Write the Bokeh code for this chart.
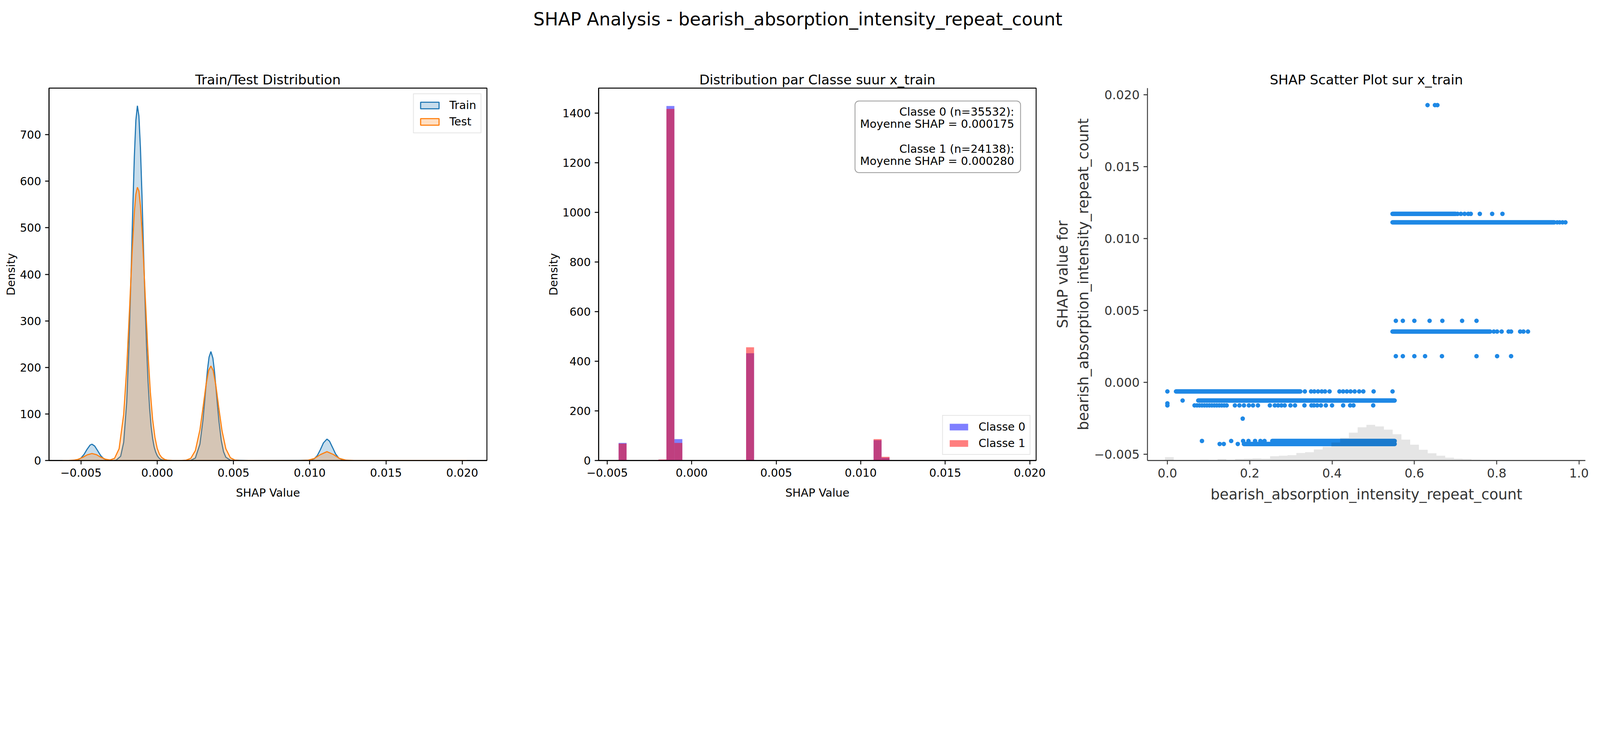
import numpy as np
from bokeh.plotting import figure
from bokeh.layouts import column, row
from bokeh.models import Range1d, FixedTicker, Legend, LegendItem, Label, BoxAnnotation
from bokeh.embed import file_html
from bokeh.resources import INLINE

# ---------------- data ----------------
# panel 1: KDE curves (density) of SHAP values
kde_train_x = [-0.0059, -0.0055, -0.0052, -0.0050, -0.0048, -0.0046, -0.0044, -0.00428, -0.0041, -0.0039,
               -0.0037, -0.0035, -0.0033, -0.0031, -0.0029, -0.0027, -0.0024, -0.0022, -0.0020, -0.00185,
               -0.0017, -0.0016, -0.0015, -0.0014, -0.0013, -0.0012, -0.0011, -0.0010, -0.0009, -0.0008,
               -0.0007, -0.0006, -0.0005, -0.0004, -0.0003, -0.0002, -0.0001, 0.0, 0.0001, 0.0002,
               0.0003, 0.0005, 0.0010, 0.0018, 0.0022, 0.0025, 0.0028, 0.0030, 0.0031, 0.0032,
               0.0033, 0.0034, 0.00352, 0.00365, 0.00375, 0.00385, 0.00395, 0.00405, 0.0042, 0.00435,
               0.0045, 0.0048, 0.0060, 0.0100, 0.0103, 0.0105, 0.0107, 0.0109, 0.01113, 0.0113,
               0.0115, 0.0117, 0.0119, 0.0122, 0.0125, 0.0150, 0.0203]
kde_train_y = [0.0, 0.2, 1.6, 5.3, 13.0, 24.1, 33.2, 35.0, 31.1, 20.7,
               10.2, 3.8, 1.1, 0.2, 0.1, 0.6, 9.0, 39.0, 125.7, 249,
               420, 543, 653, 731, 762, 740, 671, 570, 455, 343,
               245, 169, 113, 73, 47, 29, 18, 10.6, 5.9, 3.0,
               1.5, 0.3, 0.0, 0.0, 0.4, 5.2, 35.2, 87.0, 122.9, 161.0,
               196.1, 222.1, 234, 220.0, 192.8, 157.2, 119.1, 83.9, 43.2, 18.9,
               7.0, 0.6, 0.0, 0.4, 3.7, 10.8, 23.4, 37.9, 46, 41.4,
               27.9, 14.0, 5.3, 0.7, 0.05, 0.0, 0.0]
kde_test_x = [-0.0062, -0.0058, -0.0055, -0.0052, -0.0049, -0.0046, -0.00428, -0.0040, -0.0037, -0.0034,
              -0.0031, -0.0028, -0.0025, -0.0022, -0.0020, -0.0018, -0.00165, -0.0015, -0.0014, -0.0013,
              -0.0012, -0.0011, -0.0010, -0.0009, -0.00075, -0.0006, -0.00045, -0.0003, -0.00015, 0.0,
              0.00015, 0.0003, 0.0005, 0.0007, 0.0010, 0.0013, 0.0016, 0.0019, 0.0022, 0.0025,
              0.0028, 0.0030, 0.0032, 0.00337, 0.00352, 0.00367, 0.00385, 0.00405, 0.00425, 0.0045,
              0.0048, 0.0051, 0.0054, 0.0058, 0.0094, 0.0099, 0.0103, 0.0107, 0.01113, 0.01155,
              0.01195, 0.0124, 0.0129, 0.0203]
kde_test_y = [0.0, 0.1, 0.6, 2.4, 6.5, 12.0, 15.0, 12.7, 7.2, 2.8,
              1.2, 4.5, 25.2, 99.1, 199, 336, 444, 534, 572, 587,
              579, 547, 497, 433, 328, 228, 147, 88, 50, 26,
              13, 6.3, 2.1, 0.6, 0.1, 0.0, 0.1, 0.7, 4.6, 21.2,
              65.9, 112.9, 162.6, 193.3, 203, 193.3, 160.3, 110.3, 63.9, 25.3,
              5.8, 0.9, 0.1, 0.0, 0.0, 0.7, 4.3, 12.7, 19, 13.0,
              4.4, 0.6, 0.0, 0.0]

# panel 2: per-class histogram (density), only the non-empty bins
cls_bin_left = [-0.004326, -0.001968, -0.001497, -0.001026, 0.003218, 0.010762, 0.011234]
cls_bin_width = 0.0004715
class0_density = [71, 3, 1428, 86, 432, 82, 11]
class1_density = [68, 4, 1416, 71, 456, 86, 15]
class_notes = ["Classe 0 (n=35532):", "Moyenne SHAP = 0.000175", "",
               "Classe 1 (n=24138):", "Moyenne SHAP = 0.000280"]

# panel 3: SHAP scatter. dense runs of points (shap value, first / last feature value)
band_shap = [0.01171, 0.01112, 0.00353, -0.00063, -0.00126, -0.00407, -0.00428]
band_start = [0.547, 0.547, 0.547, 0.021, 0.075, 0.255, 0.186]
band_end = [0.700, 0.940, 0.784, 0.323, 0.552, 0.552, 0.552]
# isolated points, feature values per shap level
pts_p01927 = [0.632, 0.650, 0.656]
pts_p01171 = [0.705, 0.713, 0.722, 0.731, 0.737, 0.759, 0.789, 0.814]
pts_p01112 = [0.947, 0.953, 0.960, 0.967]
pts_p00428 = [0.555, 0.572, 0.600, 0.637, 0.668, 0.716, 0.751]
pts_p00353 = [0.793, 0.801, 0.812, 0.829, 0.835, 0.857, 0.865, 0.876]
pts_p00182 = [0.555, 0.572, 0.600, 0.626, 0.667, 0.751, 0.801, 0.835]
pts_m00063 = [0.0, 0.334, 0.349, 0.357, 0.366, 0.375, 0.383, 0.394, 0.418, 0.427, 0.436,
              0.445, 0.455, 0.466, 0.476, 0.501, 0.547]
pts_m00126 = [0.037]
pts_m00146 = [0.0]
pts_m00160 = [0.0, 0.066, 0.072, 0.078, 0.084, 0.090, 0.096, 0.102, 0.108, 0.114, 0.120,
              0.126, 0.132, 0.138, 0.144, 0.164, 0.175, 0.186, 0.198, 0.208, 0.220, 0.249,
              0.261, 0.269, 0.277, 0.285, 0.299, 0.310, 0.333, 0.350, 0.356, 0.364, 0.373,
              0.385, 0.400, 0.427, 0.444, 0.452, 0.500]
pts_m00252 = [0.183]
pts_m00407 = [0.084, 0.155, 0.184, 0.197, 0.213, 0.226, 0.236]
pts_m00428 = [0.127, 0.137, 0.171]
# background histogram of the feature (counts over 50 bins spanning the x limits)
n_samples = 59670
feat_counts = [0, 0, 528, 21, 21, 43, 129, 86, 215, 107,
               258, 301, 344, 301, 687, 773, 859, 1203, 1332, 1761,
               2191, 2878, 3609, 4468, 5327, 5714, 5456, 4940, 4210, 3351,
               2535, 1718, 1160, 773, 451, 301, 215, 129, 86, 43,
               21, 15, 10, 8, 6, 5, 0, 0, 0, 0]

# ticks
shap_ticks = [-0.005, 0.0, 0.005, 0.010, 0.015, 0.020]
shap_labels = ["\u22120.005", "0.000", "0.005", "0.010", "0.015", "0.020"]
kde_yticks = [0, 100, 200, 300, 400, 500, 600, 700]
hist_yticks = [0, 200, 400, 600, 800, 1000, 1200, 1400]
feat_ticks = [0.0, 0.2, 0.4, 0.6, 0.8, 1.0]
feat_labels = ["0.0", "0.2", "0.4", "0.6", "0.8", "1.0"]

# ---------------- styling helpers ----------------
# the page is shown in a 4096 css px wide viewport, photographed at 5963 px
S = 4096 / 5963
PT = 300 / 72 * S          # one matplotlib point, in css px
FONT = "DejaVu Sans"
HEAD_H = 129
ROW_H = 1162
TOP, BOTTOM = 96, 113


def fs(pt):
    return "%.1fpx" % (pt * PT)


def make_panel(title, width, left, right, xr, yr):
    p = figure(width=width, height=ROW_H, title=title,
               x_range=Range1d(*xr), y_range=Range1d(*yr),
               min_border_left=left, min_border_right=right,
               min_border_top=TOP, min_border_bottom=BOTTOM,
               toolbar_location=None, output_backend="svg")
    p.title.align = "center"
    p.title.text_font = FONT
    p.title.text_font_size = fs(12)
    p.title.text_font_style = "normal"
    p.title.text_color = "black"
    p.title.standoff = 4
    p.grid.visible = False
    p.outline_line_color = "black"
    p.outline_line_width = 0.8 * PT
    p.background_fill_color = "white"
    p.border_fill_color = "white"
    return p


def style_axes(p, color, tick_pt, label_pt):
    for ax in list(p.xaxis) + list(p.yaxis):
        ax.axis_line_color = color
        ax.axis_line_width = 0.8 * PT
        ax.major_tick_line_color = color
        ax.major_tick_line_width = 0.8 * PT
        ax.major_tick_out = round(3.5 * PT)
        ax.major_tick_in = 0
        ax.minor_tick_line_color = None
        ax.major_label_text_font = FONT
        ax.major_label_text_font_size = fs(tick_pt)
        ax.major_label_text_color = color
        ax.major_label_standoff = round(3.5 * PT)
        ax.axis_label_text_font = FONT
        ax.axis_label_text_font_size = fs(label_pt)
        ax.axis_label_text_font_style = "normal"
        ax.axis_label_text_color = color
    p.xaxis.axis_label_standoff = 21
    p.yaxis.axis_label_standoff = 3


def make_legend(items, location):
    return Legend(items=items, location=location, margin=14, padding=11, spacing=8,
                  glyph_width=59, glyph_height=21, label_standoff=21,
                  label_text_font=FONT, label_text_font_size=fs(10), label_text_color="black",
                  border_line_color="#cccccc", border_line_width=0.8 * PT,
                  background_fill_alpha=0.8)


# ---------------- panel 1: train / test KDE ----------------
x1 = (-0.007095, 0.02162)
p1 = make_panel("Train/Test Distribution", 1386, 125, 140, x1, (0, 800))
r_train = p1.patch(kde_train_x, kde_train_y, fill_color="#1f77b4", fill_alpha=0.25,
                   line_color="#1f77b4", line_width=1.0 * PT)
r_test = p1.patch(kde_test_x, kde_test_y, fill_color="#ff7f0e", fill_alpha=0.25,
                  line_color="#ff7f0e", line_width=1.0 * PT)
style_axes(p1, "black", 10, 10)
p1.xaxis.axis_label = "SHAP Value"
p1.yaxis.axis_label = "Density"
p1.xaxis.ticker = FixedTicker(ticks=shap_ticks)
p1.xaxis.major_label_overrides = dict(zip(shap_ticks, shap_labels))
p1.yaxis.ticker = FixedTicker(ticks=kde_yticks)
p1.add_layout(make_legend([LegendItem(label="Train", renderers=[r_train]),
                           LegendItem(label="Test", renderers=[r_test])], "top_right"))

# ---------------- panel 2: per-class histogram ----------------
x2 = (-0.005508, 0.02038)
y2 = (0, 1500)
p2 = make_panel("Distribution par Classe suur x_train", 1293, 146, 27, x2, y2)
cls_bin_right = [b + cls_bin_width for b in cls_bin_left]
r_c0 = p2.quad(left=cls_bin_left, right=cls_bin_right, bottom=0, top=class0_density,
               fill_color="blue", fill_alpha=0.5, line_color=None)
r_c1 = p2.quad(left=cls_bin_left, right=cls_bin_right, bottom=0, top=class1_density,
               fill_color="red", fill_alpha=0.5, line_color=None)
style_axes(p2, "black", 10, 10)
p2.xaxis.axis_label = "SHAP Value"
p2.yaxis.axis_label = "Density"
p2.xaxis.ticker = FixedTicker(ticks=shap_ticks)
p2.xaxis.major_label_overrides = dict(zip(shap_ticks, shap_labels))
p2.yaxis.ticker = FixedTicker(ticks=hist_yticks)
p2.add_layout(make_legend([LegendItem(label="Classe 0", renderers=[r_c0]),
                           LegendItem(label="Classe 1", renderers=[r_c1])], "bottom_right"))


def ax_frac(r, f):
    return r[0] + f * (r[1] - r[0])


note_box = BoxAnnotation(left=ax_frac(x2, 0.586), right=ax_frac(x2, 0.9644),
                         bottom=ax_frac(y2, 0.773), top=ax_frac(y2, 0.9654),
                         fill_color="white", fill_alpha=0.8,
                         line_color="#999999", line_alpha=1.0, line_width=2,
                         border_radius=10)
p2.add_layout(note_box)
for i, line in enumerate(class_notes):
    if not line:
        continue
    p2.add_layout(Label(x=ax_frac(x2, 0.95), y=ax_frac(y2, 0.937 - i * 0.0333), text=line,
                        text_align="right", text_baseline="middle", text_color="black",
                        text_font=FONT, text_font_size=fs(10)))

# ---------------- panel 3: SHAP scatter ----------------
x3 = (-0.0484, 1.0154)
p3 = make_panel("SHAP Scatter Plot sur x_train", 1401, 258, 22, x3, (-0.00543, 0.02045))
p3.outline_line_color = None
blue = "#1E88E5"
dot = 4 * PT
p3.segment(x0=band_start, y0=band_shap, x1=band_end, y1=band_shap,
           line_color=blue, line_width=dot, line_cap="round")
levels = [(0.01927, pts_p01927), (0.01171, pts_p01171), (0.01112, pts_p01112),
          (0.00428, pts_p00428), (0.00353, pts_p00353), (0.00182, pts_p00182),
          (-0.00063, pts_m00063), (-0.00126, pts_m00126), (-0.00146, pts_m00146),
          (-0.00160, pts_m00160), (-0.00252, pts_m00252), (-0.00407, pts_m00407),
          (-0.00428, pts_m00428)]
dot_x, dot_y = [], []
for shap_val, feats in levels:
    dot_x += feats
    dot_y += [shap_val] * len(feats)
p3.scatter(dot_x, dot_y, size=dot, fill_color=blue, line_color=None)

# feature histogram drawn on top, on its own vertical scale
edges = np.linspace(x3[0], x3[1], len(feat_counts) + 1)
p3.extra_y_ranges = {"hist": Range1d(0, n_samples)}
p3.quad(left=edges[:-1], right=edges[1:], bottom=0, top=feat_counts, y_range_name="hist",
        fill_color="black", fill_alpha=0.1, line_color=None)

style_axes(p3, "#333333", 11, 13)
p3.xaxis.axis_label_standoff = 18
p3.xaxis.axis_label = "bearish_absorption_intensity_repeat_count"
p3.yaxis.axis_label = "SHAP value for\nbearish_absorption_intensity_repeat_count"
p3.xaxis.ticker = FixedTicker(ticks=feat_ticks)
p3.xaxis.major_label_overrides = dict(zip(feat_ticks, feat_labels))
p3.yaxis.ticker = FixedTicker(ticks=shap_ticks)
p3.yaxis.major_label_overrides = dict(zip(shap_ticks, shap_labels))

# ---------------- figure title ----------------
head = figure(width=4080, height=HEAD_H, x_range=Range1d(0, 4080), y_range=Range1d(0, HEAD_H),
              min_border=0, x_axis_location=None, y_axis_location=None,
              toolbar_location=None, output_backend="svg")
head.outline_line_color = None
head.grid.visible = False
head.add_layout(Label(x=2042, y=HEAD_H - 48.3,
                      text="SHAP Analysis - bearish_absorption_intensity_repeat_count",
                      text_align="center", text_baseline="alphabetic", text_color="black",
                      text_font=FONT, text_font_size=fs(16)))

layout = column(head, row(p1, p2, p3))
open("out.html", "w").write(file_html(layout, INLINE))
